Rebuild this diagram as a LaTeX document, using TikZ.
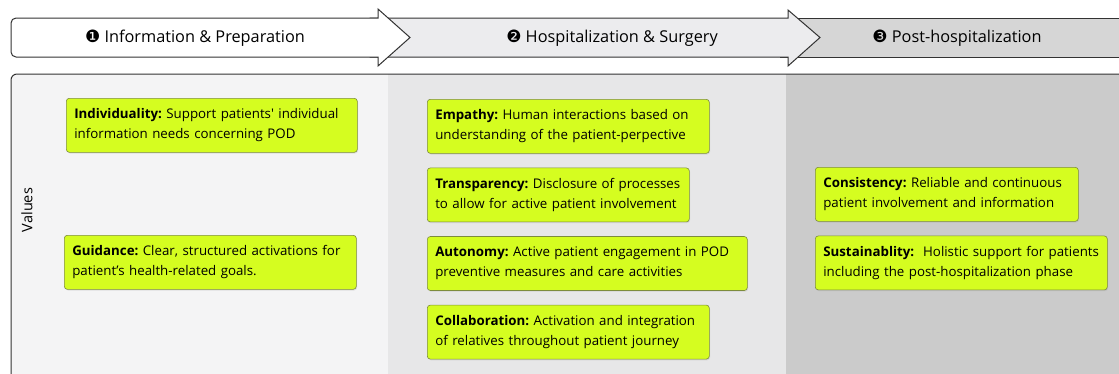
\documentclass[tikz,border=0pt]{standalone}
\usepackage{fontspec}
\setmainfont{Open Sans}
\newfontfamily\dingfont{DejaVu Sans}
\usepackage{xcolor}
\usetikzlibrary{positioning,shadows}
\frenchspacing
\definecolor{valuefill}{RGB}{213,253,32}
\definecolor{valueline}{RGB}{125,140,60}
\definecolor{colone}{RGB}{244,244,245}
\definecolor{coltwo}{RGB}{231,231,232}
\definecolor{colthree}{RGB}{203,203,203}
\definecolor{phasetwo}{RGB}{236,236,238}
\definecolor{phasethree}{RGB}{214,214,214}
\tikzset{
  phase/.style={ % outline of a phase arrow
    draw=black!80, line width=1pt, line join=miter
  },
  phaselabel/.style={ % text inside a phase arrow
    font=\fontsize{16.3}{18}\selectfont, inner sep=0pt
  },
  valbox/.style={ % green box holding one value
    draw=valueline, fill=valuefill, rounded corners=3pt,
    line width=0.6pt, anchor=north west, align=left,
    inner xsep=8pt, inner ysep=4pt, minimum height=54pt,
    font=\fontsize{13.3}{20}\selectfont,
    drop shadow={opacity=0.18, shadow xshift=0.8pt, shadow yshift=-1.2pt}
  }
}
\begin{document}
\begin{tikzpicture}[x=1pt, y=-1pt]
    \useasboundingbox (0,0) rectangle (1119,373);

    % phase arrows, last one first so the tips lie on top
    \draw[phase, fill=phasethree] (780,18) -- (1130,18) -- (1130,57) -- (780,57);
    \draw[phase, fill=phasetwo] (370,18) -- (788,18) -- (788,10) -- (820,37.5)
      -- (788,66) -- (788,57) -- (370,57) -- cycle;
    \draw[phase, fill=white] (200,18) -- (378,18) -- (378,9) -- (410,37.5)
      -- (378,66) -- (378,57) -- (200,57) [rounded corners=5pt] -- (11,57)
      -- (11,18) -- cycle;
    \node[phaselabel] (prep_label) at (195,38) {{\dingfont\fontsize{17}{18}\selectfont ❶} Information \& Preparation};
    \node[phaselabel] (hosp_label) at (612,38) {{\dingfont\fontsize{17}{18}\selectfont ❷} Hospitalization \& Surgery};
    \node[phaselabel] (post_label) at (957,38) {{\dingfont\fontsize{17}{18}\selectfont ❸} Post-hospitalization};

    % panel with three columns
    \begin{scope}
      \clip[rounded corners=6pt] (11,74) rectangle (1130,400);
      \fill[colone] (11,74) rectangle (388,400);
      \fill[coltwo] (388,74) rectangle (786,400);
      \fill[colthree] (786,74) rectangle (1130,400);
    \end{scope}
    \draw[phase, rounded corners=6pt] (11,74) rectangle (1130,400);
    \node[rotate=90, font=\fontsize{14.5}{16}\selectfont] (values) at (27,210) {Values};

    \node[valbox, text width=275pt] (individuality) at (66,98)
      {\textbf{Individuality:} Support patients\textquotesingle\ individual\\information needs concerning POD};
    \node[valbox, text width=276pt] (guidance) at (64,235)
      {\textbf{Guidance:} Clear, structured activations for\\patient’s health-related goals.};

    \node[valbox, text width=266pt] (empathy) at (427,99)
      {\textbf{Empathy:} Human interactions based on\\understanding of the patient-perpective};
    \node[valbox, text width=246pt, below right=14pt and 0pt of empathy.south west] (transparency)
      {\textbf{Transparency:} Disclosure of processes\\to allow for active patient involvement};
    \node[valbox, text width=304pt, below right=14pt and 0pt of transparency.south west] (autonomy)
      {\textbf{Autonomy:} Active patient engagement in POD\\preventive measures and care activities};
    \node[valbox, text width=266pt, below right=14pt and 0pt of autonomy.south west] (collaboration)
      {\textbf{Collaboration:} Activation and integration\\of relatives throughout patient journey};

    \node[valbox, text width=247pt] (consistency) at (815,167)
      {\textbf{Consistency:} Reliable and continuous\\patient involvement and information};
    \node[valbox, text width=276pt, below right=14pt and 0pt of consistency.south west] (sustainability)
      {\textbf{Sustainablity:}\ \ Holistic support for patients\\including the post-hospitalization phase};
\end{tikzpicture}
\end{document}
